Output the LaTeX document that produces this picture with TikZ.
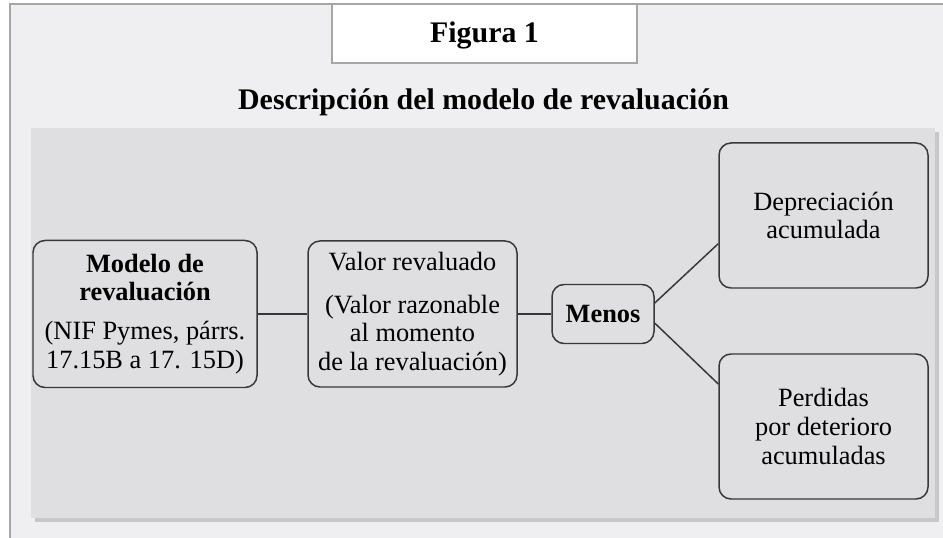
\documentclass[tikz,border=0pt]{standalone}
\usepackage{fontspec}
\setmainfont{Liberation Serif}
\usetikzlibrary{positioning}

\definecolor{framebg}{HTML}{EFEFF1}
\definecolor{panelbg}{HTML}{DFDFE1}
\definecolor{boxline}{HTML}{383838}

\begin{document}
\begin{tikzpicture}[
  box/.style={rectangle, rounded corners=0.24cm, draw=boxline, line width=0.85pt, align=center, inner sep=0pt},
  figbox/.style={rectangle, draw=gray!70, line width=0.8pt, fill=white},
  conn/.style={draw=boxline, line width=0.85pt},
  every node/.style={font=\fontsize{15}{16.3}\selectfont}
]
\useasboundingbox (0,0) rectangle (18.86,10.74);

% Background
\fill[white] (0,0) rectangle (18.86,10.74);
\draw[gray!70, line width=1.2pt, fill=framebg] (0.20,-0.5) rectangle (19.5,10.66);
\fill[black!22] (0.70,0.30) rectangle (18.78,8.10);
\fill[panelbg] (0.62,0.38) rectangle (18.70,8.18);

% Title
\node[figbox, minimum width=6.1cm, minimum height=1.18cm, text height=10.8pt, text depth=0pt, font=\bfseries\fontsize{17}{20}\selectfont] (fig) at (9.69,10.07) {Figura 1};
\node[anchor=base, font=\bfseries\fontsize{17}{20}\selectfont] (title) at (9.67,8.54) {Descripción del modelo de revaluación};

% Boxes
\node[box, minimum width=4.48cm, minimum height=2.94cm] (modelo) at (2.90,4.46) {\textbf{Modelo de}\\\textbf{revaluación}\\[6pt](NIF Pymes, párrs.\\17.15B a 17. 15D)};
\node[box, minimum width=4.18cm, minimum height=2.92cm] (valor) at (8.25,4.46) {Valor revaluado\\[8pt](Valor razonable\\al momento\\de la revaluación)};
\node[box, minimum width=2.04cm, minimum height=1.18cm, font=\bfseries\fontsize{15}{16.3}\selectfont] (menos) at (12.06,4.46) {Menos};
\node[box, minimum width=4.18cm, minimum height=2.90cm] (deprec) at (16.47,6.43) {Depreciación\\acumulada};
\node[box, minimum width=4.18cm, minimum height=2.90cm] (perdidas) at (16.47,2.21) {Perdidas\\por deterioro\\acumuladas};

% Connections
\draw[conn] (modelo) -- (valor);
\draw[conn] (valor) -- (menos);
\draw[conn] (menos.12) -- (deprec.195);
\draw[conn] (menos.-10) -- (perdidas.158);

\end{tikzpicture}
\end{document}
